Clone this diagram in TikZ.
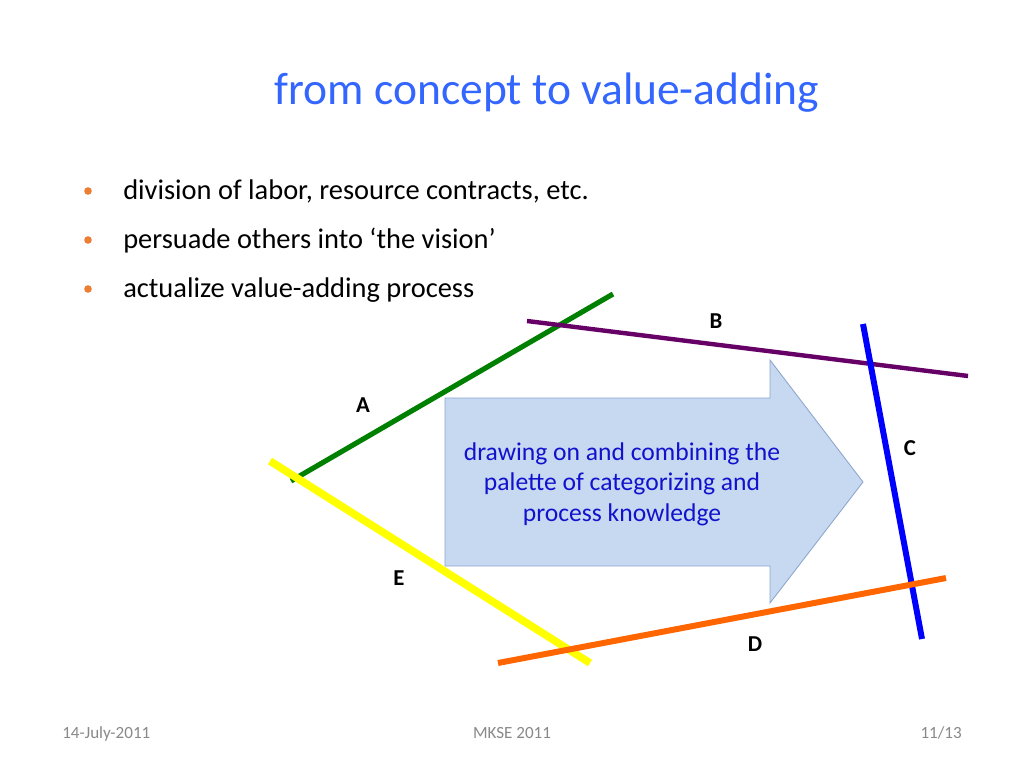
\documentclass[tikz,border=0pt]{standalone}
\usepackage{fontspec}
\setmainfont{Carlito}
\definecolor{titleblue}{RGB}{51,102,255}
\definecolor{dotorange}{RGB}{237,125,49}
\definecolor{arrowfill}{RGB}{198,217,241}
\definecolor{arrowedge}{RGB}{140,165,205}
\definecolor{textblue}{RGB}{18,18,205}
\definecolor{footgray}{RGB}{137,137,137}
\definecolor{lineA}{RGB}{0,128,0}
\definecolor{lineB}{RGB}{102,0,102}
\definecolor{lineC}{RGB}{0,0,255}
\definecolor{lineD}{RGB}{255,102,0}
\definecolor{lineE}{RGB}{255,255,0}

\begin{document}
\begin{tikzpicture}[x=0.703125pt, y=-0.703125pt]
  \tikzset{
    bullettext/.style={anchor=base west, font=\fontsize{20}{24}\selectfont, inner sep=0pt},
    bulletdot/.style={fill=dotorange, draw=none},
    letter/.style={font=\fontsize{16}{19}\selectfont\bfseries, inner sep=0pt},
    footer/.style={font=\fontsize{12}{14}\selectfont, text=footgray, inner sep=0pt}
  }
  \useasboundingbox (0,0) rectangle (1024,768);
  \fill[white] (0,0) rectangle (1024,768);
  % title and bullets
  \node[anchor=base, font=\fontsize{32}{38}\selectfont, text=titleblue, inner sep=0pt] (title) at (547,105) {from concept to value-adding};
  \node[bullettext] (b1) at (123,200) {division of labor, resource contracts, etc.};
  \node[bullettext] (b2) at (123,249) {persuade others into ‘the vision’};
  \node[bullettext] (b3) at (123,298) {actualize value-adding process};
  \foreach \y in {191,240,289}
    \fill[bulletdot] (88,\y) circle[radius=3.8];
  % line end points
  \coordinate (A1) at (291,481);
  \coordinate (A2) at (613,294);
  \coordinate (B1) at (527,321);
  \coordinate (B2) at (968,376);
  \coordinate (C1) at (863,324);
  \coordinate (C2) at (922,639);
  \coordinate (D1) at (498,663);
  \coordinate (D2) at (946,578);
  \coordinate (E1) at (270,461);
  \coordinate (E2) at (590,663);
  % the big arrow
  \draw[fill=arrowfill, draw=arrowedge, line width=0.6pt, line join=miter]
    (445,398) -- (770,398) -- (770,360) -- (863,482) -- (770,603) -- (770,566) -- (445,566) -- cycle;
  \node[align=center, text=textblue, font=\fontsize{18}{21.5}\selectfont] (knowledge) at (622,484)
    {drawing on and combining the\\palette of categorizing and\\process knowledge};
  % the five lines
  \draw[lineA, line width=3.6pt] (A1) -- (A2);
  \draw[lineB, line width=3.1pt] (B1) -- (B2);
  \draw[lineC, line width=4.2pt] (C1) -- (C2);
  \draw[lineE, line width=5.4pt] (E1) -- (E2);
  \draw[lineD, line width=4.2pt] (D1) -- (D2);
  % labels
  \node[letter] (labA) at (363,405) {A};
  \node[letter] (labB) at (716,321) {B};
  \node[letter] (labC) at (910,448) {C};
  \node[letter] (labD) at (755,644) {D};
  \node[letter] (labE) at (399,578) {E};
  % footer
  \node[footer, anchor=base west] (date) at (62,738) {14-July-2011};
  \node[footer, anchor=base] (conf) at (512,738) {MKSE 2011};
  \node[footer, anchor=base east] (page) at (962,738) {11/13};
\end{tikzpicture}
\end{document}
